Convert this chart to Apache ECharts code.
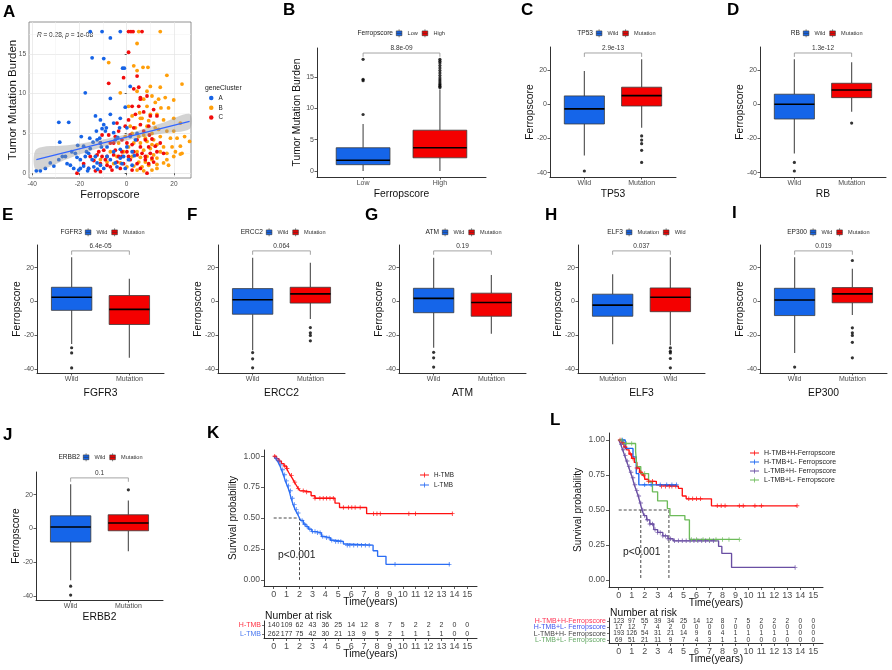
<!DOCTYPE html>
<html><head><meta charset="utf-8">
<script src="https://cdn.jsdelivr.net/npm/echarts@6/dist/echarts.min.js"></script>
<style>html,body{margin:0;padding:0;background:#fff}#c{width:892px;height:670px}</style>
</head><body><div id="c"></div><script>
const FONT = '"Liberation Sans", Arial, Helvetica, sans-serif';
const BLUE = '#1565E9', RED = '#F40000';

// ---------------- Panel A data ----------------
const clusterA = [[-15.4,17.8],[-10.4,17.8],[-2.7,17.8],[-6.9,17.0],[-14.6,14.5],[-9.7,14.4],[-1.7,13.2],[-1.0,13.2],[-17.5,10.1],[-28.7,6.4],[-24.5,6.4],[1.5,10.9],[-6.9,9.4],[-13.2,7.2],[-11.1,6.7],[-9.7,6.1],[-8.6,5.7],[-10.4,5.6],[-0.6,8.3],[-2.7,6.9],[-4.8,4.2],[-19.2,4.6],[-15.6,4.4],[-28.3,3.9],[-20.7,3.5],[-18.2,3.4],[-15.4,3.1],[-12.5,4.2],[-11.1,3.8],[-8.3,3.3],[-5.5,2.7],[-2.7,3.0],[0.1,3.3],[2.3,2.7],[-36.5,0.3],[-32.3,1.3],[-28.7,1.7],[-25.9,2.1],[-25.2,1.2],[-23.8,1.0],[-22.4,0.6],[-21.7,2.5],[-21.0,2.0],[-19.6,1.7],[-17.5,2.1],[-16.1,2.5],[-14.6,1.7],[-13.2,2.1],[-12.5,1.3],[-11.1,1.0],[-9.7,0.6],[-8.3,2.1],[-6.9,1.7],[-4.8,1.3],[-4.1,0.8],[-2.7,1.9],[-2.0,1.2],[-0.6,0.6],[0.8,1.7],[2.3,1.0],[3.2,2.2],[-16.1,0.6],[-13.9,0.8],[-18.2,0.9],[-19.6,0.6],[-20.3,0.4],[-16.5,0.3],[-12.3,0.5],[-30.8,0.9],[-34.4,0.6],[-38.2,0.3],[-27.2,2.1],[-23.2,2.7],[-17.0,2.7],[-10.7,3.3],[-9.0,5.3],[-5.5,5.1],[-3.8,4.5],[-11.4,4.4],[-14.2,3.9],[-12.8,5.3],[-6.9,7.4],[-5.5,6.3],[-3.0,5.7],[0.1,5.7],[1.5,4.6],[3.7,4.2],[4.4,5.0],[-1.3,2.1]];
const clusterB = [[5.1,17.8],[14.2,17.8],[4.4,16.3],[-7.6,13.9],[3.0,13.5],[6.9,13.3],[4.4,12.9],[9.0,13.3],[17.0,12.3],[23.4,11.2],[14.2,10.8],[10.0,10.9],[8.6,10.3],[4.4,10.3],[10.7,9.7],[16.3,9.5],[19.9,9.2],[-2.7,10.1],[0.8,8.4],[7.2,9.3],[12.1,8.9],[8.6,8.4],[14.5,8.2],[17.7,8.2],[10.0,7.4],[12.8,7.4],[5.5,7.6],[2.3,7.2],[6.5,6.9],[15.6,6.7],[19.9,6.9],[22.7,6.3],[11.4,6.3],[8.6,5.9],[3.7,5.7],[13.5,5.5],[17.0,5.3],[19.9,5.3],[10.7,5.0],[7.2,4.8],[14.2,4.6],[24.5,4.6],[18.5,4.4],[26.6,4.0],[11.4,4.2],[8.6,4.0],[5.8,3.8],[3.0,3.8],[0.8,3.3],[12.8,3.6],[15.6,3.3],[19.2,3.3],[22.7,3.4],[10.0,3.1],[7.2,2.9],[4.4,2.7],[14.2,2.7],[17.0,2.5],[20.6,2.7],[23.4,2.5],[11.4,2.3],[8.6,2.1],[5.8,2.0],[2.3,2.1],[12.8,1.9],[10.7,1.7],[7.9,1.4],[5.1,1.4],[15.6,1.3],[12.8,1.1],[9.3,1.0],[6.5,0.8],[3.0,0.9],[0.1,0.8],[-2.7,1.3],[-5.5,1.2],[-8.3,1.4],[-4.1,2.1],[-1.3,2.7],[-3.4,3.8],[-0.6,4.6],[2.3,5.0],[17.0,1.7],[19.9,2.1],[22.7,2.4],[10.7,0.4],[7.2,0.3],[4.4,0.4],[17.7,1.0],[12.8,0.6],[21.3,4.4],[-13.2,2.1],[-11.1,1.7],[-6.9,2.7],[10.7,3.6],[7.9,4.4],[5.1,4.6],[12.1,5.7],[9.3,6.6],[13.5,9.3],[5.8,6.9],[1.5,5.9]];
const clusterC = [[0.8,17.8],[1.8,17.8],[2.7,17.8],[6.5,17.8],[0.8,15.2],[-1.3,12.0],[4.4,12.2],[-7.6,11.3],[5.1,10.8],[5.8,9.5],[8.6,9.7],[11.4,8.0],[5.1,8.4],[7.2,7.7],[3.7,7.4],[10.0,7.2],[12.8,7.2],[0.8,6.7],[-4.1,6.3],[5.8,6.1],[9.3,5.9],[-7.6,4.8],[-4.8,4.6],[-10.4,4.8],[1.5,4.8],[-2.0,4.2],[4.4,4.2],[7.9,4.2],[10.7,4.3],[-11.1,3.8],[-6.9,3.8],[0.1,3.8],[2.3,3.6],[5.8,3.3],[9.3,3.3],[12.1,3.4],[-9.7,2.9],[-4.8,2.9],[-2.0,2.7],[3.0,2.7],[6.5,2.5],[10.0,2.5],[12.8,2.7],[-12.5,2.3],[-8.3,2.1],[-5.5,2.3],[0.8,2.1],[4.4,2.3],[7.9,2.1],[10.7,1.9],[-13.9,1.6],[-11.1,1.2],[-8.3,1.0],[-4.1,1.4],[-1.3,1.2],[1.5,1.7],[4.4,1.2],[7.9,1.7],[9.3,1.2],[11.4,1.4],[-16.1,0.6],[-13.2,0.3],[-11.1,0.2],[-21.0,0.0],[-6.2,0.4],[-2.7,0.6],[2.3,0.4],[5.8,0.6],[8.6,0.0],[-2.0,2.1],[-5.5,3.8],[-3.4,5.3],[-0.6,5.9],[3.0,5.7],[2.3,8.4],[5.8,9.3],[3.0,10.6],[9.6,4.8],[7.2,5.3],[0.1,2.7],[-3.4,2.1],[-9.0,1.7],[-6.9,0.8],[-10.4,2.1],[-11.8,2.7],[-15.4,2.1],[-18.2,1.2],[14.2,3.8],[15.6,2.5]];
const regLine = [[-38.2,1.7],[26.6,6.5]];
const bandX    = [-38.2,-25,-15,-5,5,15,26.6];
const bandLow  = [0.4,1.8,2.85,3.75,4.45,5.0,5.55];
const bandHigh = [3.0,3.5,3.95,4.55,5.35,6.3,7.45];
const aXTicks = [-40,-20,0,20], aXMinor = [-30,-10,10];
const aYTicks = [0,5,10,15], aYMinor = [2.5,7.5,12.5,17.5];

// ---------------- Box plot data: [min, Q1, median, Q3, max] ----------------
const tmbGroups = ['Low','High'];
const tmbStats = [[0,1.0,1.7,3.7,7.5],[0,2.1,3.7,6.5,13.0]];
const tmbOut = [[1,9.0],[1,14.4],[1,14.6],[1,17.8],[2,13.3],[2,13.5],[2,13.7],[2,13.9],[2,14.2],[2,14.5],[2,14.8],[2,15.2],[2,15.6],[2,16.0],[2,16.4],[2,16.8],[2,17.2],[2,17.5],[2,17.8]];
const tmbP = '8.8e-09';
const tmbTicks = [0,5,10,15];

const ferroTicks = [-40,-20,0,20];
const tp53Groups = ['Wild','Mutation'];
const tp53Stats = [[-30,-11.5,-2.7,4.9,19.5],[-13.7,-1.0,5.1,10.0,26.3]];
const tp53Out = [[1,-39],[2,-18.5],[2,-20.9],[2,-23.0],[2,-26.9],[2,-34.0]];
const tp53P = '2.9e-13';

const rbGroups = ['Wild','Mutation'];
const rbStats = [[-28.8,-8.6,0,5.9,26.4],[-4.3,3.9,8.4,12.3,24.6]];
const rbOut = [[1,-34],[1,-39],[2,-11]];
const rbP = '1.3e-12';

const fgfr3Groups = ['Wild','Mutation'];
const fgfr3Stats = [[-25.3,-5.3,2.5,8.4,26.3],[-33.5,-13.7,-4.7,3.5,13.5]];
const fgfr3Out = [[1,-27.5],[1,-30.6],[1,-39.5]];
const fgfr3P = '6.4e-05';

const ercc2Groups = ['Wild','Mutation'];
const ercc2Stats = [[-29,-7.6,1.0,7.6,25.9],[-10.4,-1.0,4.5,8.4,22.9]];
const ercc2Out = [[1,-30.4],[1,-34.1],[1,-39.4],[2,-15.5],[2,-18.6],[2,-20.2],[2,-23.4]];
const ercc2P = '0.064';

const atmGroups = ['Wild','Mutation'];
const atmStats = [[-27.5,-6.7,1.8,7.8,25.9],[-19.2,-8.8,-0.6,4.9,15.7]];
const atmOut = [[1,-30.2],[1,-33.5],[1,-39]];
const atmP = '0.19';

const elf3Groups = ['Mutation','Wild'];
const elf3Stats = [[-25.5,-8.8,-2.2,4.3,16.1],[-26,-6.1,2.5,8.0,26.3]];
const elf3Out = [[2,-27.6],[2,-29.6],[2,-30.6],[2,-33.9],[2,-39.4]];
const elf3P = '0.037';

const ep300Groups = ['Wild','Mutation'];
const ep300Stats = [[-30.6,-8.4,0.8,7.8,26.3],[-8.0,-0.8,4.5,8.2,19.4]];
const ep300Out = [[1,-39],[2,24.3],[2,-15.7],[2,-18.6],[2,-20.2],[2,-24.3],[2,-33.5]];
const ep300P = '0.019';

const erbb2Groups = ['Wild','Mutation'];
const erbb2Stats = [[-30.8,-8.1,0.8,7.5,26.2],[-13.6,-1.4,3.2,8.1,16.6]];
const erbb2Out = [[1,-34.3],[1,-39.6],[2,22.9]];
const erbb2P = '0.1';

// ---------------- KM data ----------------
const kmYears = [0,1,2,3,4,5,6,7,8,9,10,11,12,13,14,15];
const kmSurvTicks = [0,0.25,0.5,0.75,1];
const kmK_H = [[0,1],[0.2,0.98],[0.4,0.96],[0.6,0.94],[0.8,0.92],[1.0,0.90],[1.15,0.87],[1.3,0.845],[1.45,0.82],[1.6,0.79],[1.75,0.765],[1.9,0.74],[2.05,0.72],[2.3,0.71],[2.9,0.68],[3.2,0.66],[4.75,0.62],[5.1,0.585],[7.2,0.535],[13.85,0.535]];
const kmK_L = [[0,1],[0.15,0.98],[0.3,0.96],[0.45,0.93],[0.6,0.89],[0.75,0.85],[0.9,0.80],[1.05,0.76],[1.2,0.72],[1.35,0.66],[1.5,0.61],[1.65,0.57],[1.8,0.54],[1.95,0.51],[2.1,0.48],[2.3,0.45],[2.5,0.43],[2.7,0.41],[2.95,0.39],[3.3,0.38],[3.7,0.35],[4.0,0.34],[4.4,0.32],[4.7,0.31],[5.4,0.29],[5.6,0.28],[7.7,0.235],[8.05,0.19],[8.7,0.125],[13.65,0.125]];
const censK_H = [0.08,0.26,0.47,0.86,1.04,1.38,1.64,1.9,2.29,2.55,3.2,3.58,3.84,4.1,4.36,4.62,5.4,5.79,6.05,6.31,6.7,7.74,8.0,8.26,10.47,10.99,13.84];
const censK_L = [0.2,0.4,0.55,0.7,0.85,1.0,1.15,1.3,1.45,1.6,1.75,1.9,2.2,2.4,2.6,2.8,3.0,3.2,3.4,3.6,3.8,4.1,4.3,4.5,4.8,5.0,5.2,5.7,5.9,6.2,6.5,6.8,7.1,7.4,9.4,13.6];
const riskK_H = [140,109,62,43,36,25,14,12,8,7,5,2,2,2,0,0];
const riskK_L = [262,177,75,42,30,21,13,9,5,2,1,1,1,1,0,0];
const kmK_median = [[0,0.5],[2.0,0.5],[2.0,0]];

const kmL_HH = [[0,1],[0.2,0.98],[0.4,0.95],[0.6,0.93],[0.8,0.90],[1.0,0.87],[1.2,0.84],[1.4,0.80],[1.6,0.77],[1.8,0.75],[2.0,0.72],[2.3,0.705],[2.9,0.68],[3.2,0.67],[4.6,0.655],[4.9,0.60],[5.2,0.58],[7.15,0.53],[13.75,0.53]];
const kmL_HL = [[0,1],[0.5,0.94],[1.1,0.88],[1.35,0.76],[1.55,0.68],[4.45,0.68]];
const kmL_LH = [[0,1],[0.15,0.97],[0.3,0.93],[0.45,0.89],[0.6,0.85],[0.75,0.81],[0.9,0.77],[1.05,0.73],[1.2,0.68],[1.35,0.64],[1.5,0.60],[1.65,0.55],[1.8,0.50],[1.95,0.46],[2.15,0.43],[2.4,0.40],[2.7,0.36],[3.0,0.34],[3.4,0.315],[3.8,0.295],[4.2,0.28],[7.7,0.24],[7.95,0.19],[8.7,0.09],[13.6,0.09]];
const kmL_LL = [[0,1],[0.35,0.975],[1.3,0.92],[1.4,0.81],[1.7,0.76],[2.3,0.70],[2.6,0.63],[3.0,0.565],[3.75,0.51],[3.95,0.46],[5.1,0.43],[5.45,0.29],[9.3,0.29]];
const censL_HH = [0.1,0.3,0.5,0.9,1.1,1.4,1.7,1.9,2.3,2.6,3.3,3.6,3.9,4.1,4.4,5.4,5.7,6.0,6.3,7.6,7.9,8.2,9.3,9.6,10.5,11.0,13.75];
const censL_HL = [0.3,2.0,2.5,3.2,3.7,4.1,4.45];
const censL_LH = [0.2,0.35,0.5,0.65,0.8,0.95,1.1,1.25,1.4,1.55,1.7,1.85,2.0,2.2,2.4,2.6,2.8,3.0,3.2,3.4,3.6,3.8,4.0,4.3,4.6,4.9,5.2,5.5,5.8,6.1,6.4,6.7,7.0,7.3,13.6];
const censL_LL = [0.2,0.6,1.0,2.0,5.6,6.0,6.5,7.0,7.5,8.0,8.5,9.3];
const riskL_HH = [123,97,55,39,34,25,14,12,8,7,5,2,2,2,0,0];
const riskL_HL = [17,12,7,4,2,0,0,0,0,0,0,0,0,0,0,0];
const riskL_LH = [193,126,54,31,21,14,9,6,4,1,1,1,1,1,0,0];
const riskL_LL = [69,51,21,11,9,7,4,3,1,1,0,0,0,0,0,0];
const kmL_median = [[0,0.5],[3.87,0.5]];
const kmL_medianV1 = [[1.7,0.5],[1.7,0]];
const kmL_medianV2 = [[3.87,0.5],[3.87,0]];

// ---------------- helpers ----------------
const option = {animation:false, backgroundColor:'#fff', textStyle:{fontFamily:FONT},
  grid:[], xAxis:[], yAxis:[], series:[], legend:[], title:[], graphic:[]};
function addGrid(g){ option.grid.push(Object.assign({show:false, containLabel:false, outerBoundsMode:'none'}, g)); return option.grid.length-1; }
function addX(a){ option.xAxis.push(Object.assign({nameMoveOverlap:false}, a)); return option.xAxis.length-1; }
function addY(a){ option.yAxis.push(Object.assign({nameMoveOverlap:false}, a)); return option.yAxis.length-1; }
function txt(x,y,text,size,opt){ option.graphic.push({type:'text', x:x, y:y, silent:true, style:Object.assign({text:text, fontSize:size, fontFamily:FONT, fill:'#1a1a1a', textAlign:'left', align:'left', textVerticalAlign:'middle', verticalAlign:'middle'}, opt||{})}); }
function letter(ch,x,y){ option.title.push({text:ch, left:x, top:y, padding:0, textStyle:{fontSize:17, fontWeight:'bold', fontFamily:FONT, color:'#000'}}); }
const AXLINE = {show:true, onZero:false, lineStyle:{color:'#1a1a1a', width:0.9}};
function tick(vals,len){ return {show:true, customValues:vals, length:len||2.5, lineStyle:{color:'#333', width:0.8}}; }
function lab(vals,fmt,size,margin){ return {show:true, customValues:vals, formatter:fmt, fontSize:size, color:'#4d4d4d', margin:margin||3, fontFamily:FONT}; }
function survAt(curve,t){ let s = curve[0][1]; for (const p of curve){ if (p[0] <= t) s = p[1]; else break; } return s; }

// ---------------- Panel A ----------------
(function(){
  const g = addGrid({left:29, top:22, width:162, height:156, show:true, borderColor:'#777', borderWidth:0.8, backgroundColor:'#fff'});
  const x0 = addX({type:'value', gridIndex:g, min:-41.3, max:27.2, axisLine:{show:false}, axisTick:tick(aXTicks,2),
    axisLabel:lab(aXTicks, v=>String(v), 6.5, 3), splitLine:{show:true, lineStyle:{color:'#e4e4e4', width:0.7}},
    name:'Ferropscore', nameLocation:'middle', nameGap:11, nameTextStyle:{fontSize:11, color:'#111', fontFamily:FONT}});
  addX({type:'value', gridIndex:g, position:'top', min:-41.3, max:27.2, axisLine:{show:false}, axisTick:{show:false, customValues:aXMinor}, axisLabel:{show:false}, splitLine:{show:true, lineStyle:{color:'#f1f1f1', width:0.5}}});
  const y0 = addY({type:'value', gridIndex:g, min:-0.6, max:19.0, axisLine:{show:false}, axisTick:tick(aYTicks,2),
    axisLabel:lab(aYTicks, v=>String(v), 6.5, 3), splitLine:{show:true, lineStyle:{color:'#e4e4e4', width:0.7}},
    name:'Tumor Mutation Burden', nameLocation:'middle', nameGap:10, nameTextStyle:{fontSize:11.5, color:'#111', fontFamily:FONT}});
  addY({type:'value', gridIndex:g, position:'right', min:-0.6, max:19.0, axisLine:{show:false}, axisTick:{show:false, customValues:aYMinor}, axisLabel:{show:false}, splitLine:{show:true, lineStyle:{color:'#f1f1f1', width:0.5}}});
  const cols = {A:'#1663E6', B:'#FF9F0A', C:'#F20C0C'};
  [['B',clusterB],['C',clusterC],['A',clusterA]].forEach(([n,d])=>{
    option.series.push({type:'scatter', name:n, xAxisIndex:x0, yAxisIndex:y0, data:d, symbolSize:3.8, itemStyle:{color:cols[n], opacity:1}, z:3});
  });
  option.series.push({type:'custom', name:'band', xAxisIndex:x0, yAxisIndex:y0, z:4, data:[[bandX[0],bandLow[0]]],
    renderItem:(params, api)=>{
      const pts = [];
      for (let i=0;i<bandX.length;i++) pts.push(api.coord([bandX[i], bandHigh[i]]));
      for (let i=bandX.length-1;i>=0;i--) pts.push(api.coord([bandX[i], bandLow[i]]));
      return {type:'polygon', shape:{points:pts, smooth:0.3}, style:{fill:'rgba(150,150,150,0.42)'}};
    }});
  option.series.push({type:'line', name:'fit', xAxisIndex:x0, yAxisIndex:y0, data:regLine, symbol:'none', z:5, lineStyle:{color:'#3366FF', width:1.3}});
  option.graphic.push({type:'text', x:37, y:35, silent:true, style:{text:'{i|R} = 0.28, {i|p} = 1e-08', fontSize:6.5, fontFamily:FONT, fill:'#222', verticalAlign:'middle', textVerticalAlign:'middle', rich:{i:{fontStyle:'italic', fontSize:6.5, fontFamily:FONT, fill:'#222'}}}});
  txt(205, 88, 'geneCluster', 6.8, {fill:'#222'});
  option.legend.push({left:209, top:94, orient:'vertical', icon:'circle', itemWidth:4.5, itemHeight:4.5, itemGap:1.8, padding:0,
    data:['A','B','C'], textStyle:{fontSize:6.3, lineHeight:8, color:'#222', fontFamily:FONT}});
  letter('A', 3, 4);
})();

// ---------------- Box panels ----------------
const BOXICON = 'path://M3.5,0 V2 M0,2 H7 V8 H0 Z M0,5 H7 M3.5,8 V10';
function boxPanel(P){
  const g = addGrid({left:P.left, top:P.top, width:P.width, height:P.height});
  const xa = addX({type:'value', gridIndex:g, min:0.4, max:2.6, axisLine:AXLINE, axisTick:tick([1,2]),
    axisLabel:lab([1,2], v=>P.groups[Math.round(v)-1], 7, 3), splitLine:{show:false},
    name:P.xtitle, nameLocation:'middle', nameGap:P.xGap, nameTextStyle:{fontSize:10.3, color:'#111', fontFamily:FONT}});
  const ya = addY({type:'value', gridIndex:g, min:P.ymin, max:P.ymax, axisLine:AXLINE, axisTick:tick(P.ticks),
    axisLabel:lab(P.ticks, v=>String(v), 7, 3), splitLine:{show:false},
    name:P.ytitle, nameLocation:'middle', nameGap:15, nameTextStyle:{fontSize:10.3, color:'#111', fontFamily:FONT}});
  P.stats.forEach((s,i)=>{
    const col = P.colors[i];
    option.series.push({type:'custom', name:P.groups[i], xAxisIndex:xa, yAxisIndex:ya, itemStyle:{color:col},
      data:[[i+1].concat(s)], encode:{x:0, y:[1,2,3,4,5]},
      renderItem:(params, api)=>{
        const x = api.value(0);
        const lo = api.coord([x, api.value(1)]), q1 = api.coord([x, api.value(2)]), md = api.coord([x, api.value(3)]),
              q3 = api.coord([x, api.value(4)]), hi = api.coord([x, api.value(5)]);
        const L = api.coord([x-0.35, 0])[0], R = api.coord([x+0.35, 0])[0];
        return {type:'group', children:[
          {type:'line', shape:{x1:lo[0], y1:lo[1], x2:q1[0], y2:q1[1]}, style:{stroke:'#5a5a5a', lineWidth:1.2}},
          {type:'line', shape:{x1:q3[0], y1:q3[1], x2:hi[0], y2:hi[1]}, style:{stroke:'#5a5a5a', lineWidth:1.2}},
          {type:'rect', shape:{x:L, y:q3[1], width:R-L, height:q1[1]-q3[1]}, style:{fill:col, stroke:'#3a3a3a', lineWidth:0.8}},
          {type:'line', shape:{x1:L, y1:md[1], x2:R, y2:md[1]}, style:{stroke:'#000', lineWidth:1.6}}
        ]};
      }});
  });
  option.series.push({type:'scatter', name:'outliers', xAxisIndex:xa, yAxisIndex:ya, data:P.out, symbolSize:3.2, itemStyle:{color:'#000'}, z:3});
  option.series.push({type:'custom', name:'bracket', xAxisIndex:xa, yAxisIndex:ya, data:[[1,2,P.bracket]],
    renderItem:(params, api)=>{
      const a = api.coord([1, P.bracket - P.bTick]), b = api.coord([1, P.bracket]), c = api.coord([2, P.bracket]), d = api.coord([2, P.bracket - P.bTick]);
      return {type:'group', children:[
        {type:'polyline', shape:{points:[a,b,c,d]}, style:{stroke:'#9a9a9a', lineWidth:0.9, fill:null}},
        {type:'text', x:(b[0]+c[0])/2, y:b[1]-1.5, style:{text:P.p, fontSize:6.5, fontFamily:FONT, fill:'#333', align:'center', textAlign:'center', verticalAlign:'bottom', textVerticalAlign:'bottom'}}
      ]};
    }});
  txt(P.legX-3, P.legY, P.legTitle, 6.6, {align:'right', textAlign:'right', fill:'#222'});
  option.legend.push({left:P.legX, top:P.legY-4, orient:'horizontal', icon:BOXICON, itemWidth:7, itemHeight:8, itemGap:4, padding:0,
    data:P.groups.map((n,i)=>({name:n, itemStyle:{color:P.colors[i], borderColor:'#333', borderWidth:0.6}})),
    textStyle:{fontSize:5.6, lineHeight:8, color:'#333', fontFamily:FONT}});
  letter(P.letter, P.lx, P.ly);
}
const FERRO = {ymin:-42.5, ymax:33.5, ticks:ferroTicks, bracket:30, bTick:2.3, ytitle:'Ferropscore', colors:[BLUE,RED]};
boxPanel(Object.assign({}, FERRO, {groups:tmbGroups, stats:tmbStats, out:tmbOut, p:tmbP, ticks:tmbTicks, ymin:-0.96, ymax:19.6, bracket:18.8, bTick:0.6,
  ytitle:'Tumor Mutation Burden', xtitle:'Ferropscore', legTitle:'Ferropscore', left:317, top:48, width:169, height:129, xGap:12, legX:396, legY:33, letter:'B', lx:283, ly:2}));
boxPanel(Object.assign({}, FERRO, {groups:tp53Groups, stats:tp53Stats, out:tp53Out, p:tp53P, xtitle:'TP53', legTitle:'TP53',
  left:550, top:47, width:126, height:130, xGap:12, legX:596, legY:33, letter:'C', lx:521, ly:2}));
boxPanel(Object.assign({}, FERRO, {groups:rbGroups, stats:rbStats, out:rbOut, p:rbP, xtitle:'RB', legTitle:'RB',
  left:760, top:47, width:126, height:130, xGap:12, legX:803, legY:33, letter:'D', lx:727, ly:2}));
boxPanel(Object.assign({}, FERRO, {groups:fgfr3Groups, stats:fgfr3Stats, out:fgfr3Out, p:fgfr3P, xtitle:'FGFR3', legTitle:'FGFR3',
  left:37, top:245, width:127, height:128, xGap:15, legX:85, legY:232, letter:'E', lx:2, ly:207}));
boxPanel(Object.assign({}, FERRO, {groups:ercc2Groups, stats:ercc2Stats, out:ercc2Out, p:ercc2P, xtitle:'ERCC2', legTitle:'ERCC2',
  left:218, top:245, width:127, height:128, xGap:15, legX:266, legY:232, letter:'F', lx:187, ly:207}));
boxPanel(Object.assign({}, FERRO, {groups:atmGroups, stats:atmStats, out:atmOut, p:atmP, xtitle:'ATM', legTitle:'ATM',
  left:399, top:245, width:127, height:128, xGap:15, legX:442, legY:232, letter:'G', lx:365, ly:207}));
boxPanel(Object.assign({}, FERRO, {groups:elf3Groups, stats:elf3Stats, out:elf3Out, p:elf3P, xtitle:'ELF3', legTitle:'ELF3',
  left:578, top:245, width:127, height:128, xGap:15, legX:626, legY:232, letter:'H', lx:545, ly:207}));
boxPanel(Object.assign({}, FERRO, {groups:ep300Groups, stats:ep300Stats, out:ep300Out, p:ep300P, xtitle:'EP300', legTitle:'EP300',
  left:760, top:245, width:127, height:128, xGap:15, legX:810, legY:232, letter:'I', lx:732, ly:205}));
boxPanel(Object.assign({}, FERRO, {groups:erbb2Groups, stats:erbb2Stats, out:erbb2Out, p:erbb2P, xtitle:'ERBB2', legTitle:'ERBB2',
  left:36, top:472, width:127, height:128, xGap:12, legX:83, legY:457, letter:'J', lx:3, ly:427}));

// ---------------- KM panels ----------------
const PLUS = 'path://M4,0 H6 V4 H10 V6 H6 V10 H4 V6 H0 V4 H4 Z';
const LEGPLUS = 'path://M0,4.4 H14 V5.6 H0 Z M6.4,1 H7.6 V9 H6.4 Z';
function kmPanel(K){
  const g = addGrid({left:K.left, top:K.top, width:K.width, height:K.height});
  const xa = addX({type:'value', gridIndex:g, min:-0.75, max:15.75, axisLine:AXLINE, axisTick:tick(kmYears,3),
    axisLabel:lab(kmYears, v=>String(v), 9, 4), splitLine:{show:false},
    name:'Time(years)', nameLocation:'middle', nameGap:11, nameTextStyle:{fontSize:10.3, color:'#111', fontFamily:FONT}});
  const ya = addY({type:'value', gridIndex:g, min:-0.05, max:1.05, axisLine:AXLINE, axisTick:tick(kmSurvTicks,3),
    axisLabel:lab(kmSurvTicks, v=>v.toFixed(2), 8.5, 4), splitLine:{show:false},
    name:'Survival probability', nameLocation:'middle', nameGap:26, nameTextStyle:{fontSize:10, color:'#111', fontFamily:FONT}});
  K.curves.forEach((c)=>{
    option.series.push({type:'line', name:c.name, xAxisIndex:xa, yAxisIndex:ya, data:c.data, step:'end', symbol:'none', z:3,
      itemStyle:{color:c.color}, lineStyle:{color:c.color, width:1.35}});
    option.series.push({type:'scatter', name:c.name+'_cens', xAxisIndex:xa, yAxisIndex:ya, z:4,
      data:c.cens.map(t=>[t, survAt(c.data,t)]), symbol:PLUS, symbolSize:4.5, itemStyle:{color:c.color}});
  });
  K.medians.forEach(m=>{
    option.series.push({type:'line', name:'median', xAxisIndex:xa, yAxisIndex:ya, data:m, symbol:'none', z:2,
      lineStyle:{color:'#333', width:0.9, type:[3,2]}});
  });
  txt(K.pX, K.pY, 'p<0.001', 10.3, {fill:'#222'});
  option.legend.push({left:K.legX, top:K.legY, orient:'vertical', icon:LEGPLUS, itemWidth:9, itemHeight:6, itemGap:K.legGap, padding:0,
    data:K.curves.map(c=>({name:c.name, itemStyle:{color:c.color}})),
    textStyle:{fontSize:K.legFont, lineHeight:8, color:'#222', fontFamily:FONT}});
  const tg = addGrid({left:K.left, top:K.tTop, width:K.width, height:K.tHeight});
  const txa = addX({type:'value', gridIndex:tg, min:-0.75, max:15.75, axisLine:AXLINE, axisTick:tick(kmYears,3),
    axisLabel:lab(kmYears, v=>String(v), 9, 4), splitLine:{show:false},
    name:'Time(years)', nameLocation:'middle', nameGap:11, nameTextStyle:{fontSize:10.3, color:'#111', fontFamily:FONT}});
  const rowNames = K.rows.map(r=>r.label);
  const tya = addY({type:'category', gridIndex:tg, data:rowNames, inverse:true, axisLine:AXLINE,
    axisTick:{show:true, length:2, alignWithLabel:true, lineStyle:{color:'#333', width:0.7}},
    axisLabel:{show:true, interval:0, fontSize:K.rowFont, margin:3, fontFamily:FONT, color:(v,i)=>K.rows[i].color}, splitLine:{show:false}});
  K.rows.forEach((r,ri)=>{
    option.series.push({type:'custom', name:'risk', xAxisIndex:txa, yAxisIndex:tya,
      data:r.nums.map((n,i)=>[kmYears[i], ri]), encode:{x:0, y:1},
      renderItem:(params, api)=>{
        const p = api.coord([api.value(0), ri]);
        return {type:'text', x:p[0], y:p[1], style:{text:String(r.nums[params.dataIndex]), fontSize:K.numFont, fontFamily:FONT, fill:'#333', align:'center', textAlign:'center', verticalAlign:'middle', textVerticalAlign:'middle'}};
      }});
  });
  txt(K.left+1, K.nrY, 'Number at risk', 10.3, {fill:'#111'});
  letter(K.letter, K.lx, K.ly);
}
kmPanel({left:264, top:450, width:213, height:136, tTop:621, tHeight:17, nrY:616, pX:278, pY:555, legX:420, legY:471, legGap:2, legFont:6.3,
  rowFont:7, numFont:7, letter:'K', lx:207, ly:425,
  curves:[{name:'H-TMB', data:kmK_H, cens:censK_H, color:'#FF1010'},{name:'L-TMB', data:kmK_L, cens:censK_L, color:'#2A6DF4'}],
  medians:[kmK_median],
  rows:[{label:'H-TMB', nums:riskK_H, color:'#FF3344'},{label:'L-TMB', nums:riskK_L, color:'#4A78F0'}]});
kmPanel({left:609, top:433, width:214, height:154, tTop:618, tHeight:25, nrY:613, pX:623, pY:552, legX:750, legY:449, legGap:1, legFont:7,
  rowFont:7, numFont:6.5, letter:'L', lx:550, ly:412,
  curves:[{name:'H-TMB+H-Ferropscore', data:kmL_HH, cens:censL_HH, color:'#FF1010'},
          {name:'H-TMB+L- Ferropscore', data:kmL_HL, cens:censL_HL, color:'#1A66F2'},
          {name:'L-TMB+H- Ferropscore', data:kmL_LH, cens:censL_LH, color:'#6A4FA3'},
          {name:'L-TMB+L- Ferropscore', data:kmL_LL, cens:censL_LL, color:'#6DBB5A'}],
  medians:[kmL_median, kmL_medianV1, kmL_medianV2],
  rows:[{label:'H-TMB+H-Ferropscore', nums:riskL_HH, color:'#FF3355'},{label:'H-TMB+L- Ferropscore', nums:riskL_HL, color:'#4455EE'},
        {label:'L-TMB+H- Ferropscore', nums:riskL_LH, color:'#444444'},{label:'L-TMB+L- Ferropscore', nums:riskL_LL, color:'#66AA66'}]});

const chart = echarts.init(document.getElementById('c'), null, {renderer:'canvas', width:892, height:670});
chart.setOption(option);
</script></body></html>
